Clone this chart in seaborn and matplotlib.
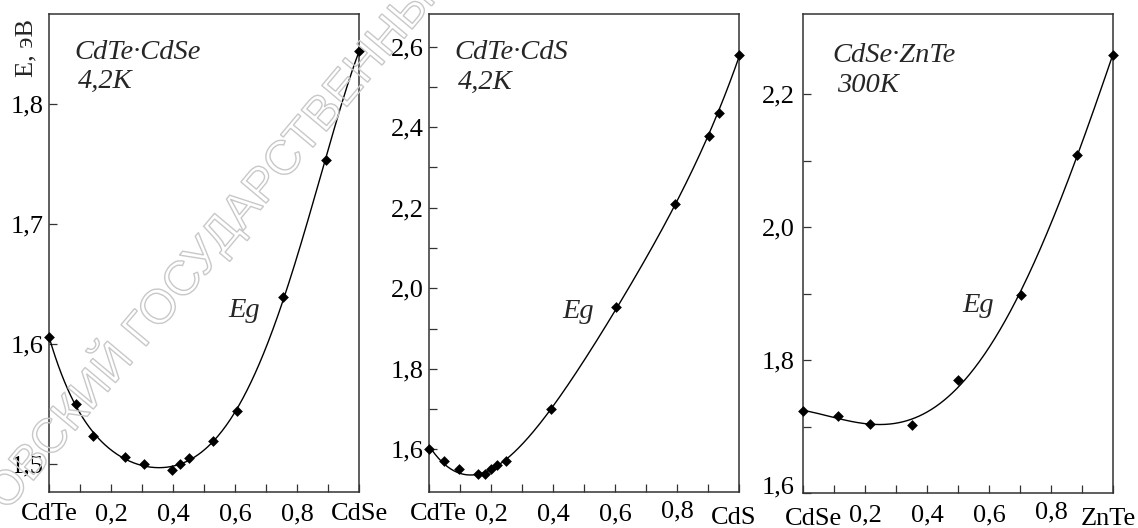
import numpy as np
import pandas as pd
import matplotlib
matplotlib.use("Agg")
import matplotlib.pyplot as plt
import seaborn as sns
from matplotlib.transforms import ScaledTranslation, Affine2D
from matplotlib.textpath import TextPath
from matplotlib.patches import PathPatch
from matplotlib.font_manager import FontProperties

# CdTe-CdSe, 4.2 K
x_cdte_cdse = [0.0, 0.087, 0.143, 0.246, 0.305, 0.398, 0.423, 0.452, 0.530, 0.605, 0.756, 0.892, 1.0]
e_cdte_cdse = [1.606, 1.550, 1.523, 1.506, 1.500, 1.495, 1.500, 1.505, 1.519, 1.544, 1.639, 1.753, 1.844]

# CdTe-CdS, 4.2 K
x_cdte_cds = [0.0, 0.049, 0.097, 0.158, 0.182, 0.201, 0.220, 0.249, 0.395, 0.604, 0.792, 0.902, 0.935, 1.0]
e_cdte_cds = [1.600, 1.572, 1.550, 1.538, 1.538, 1.550, 1.560, 1.571, 1.699, 1.954, 2.208, 2.378, 2.435, 2.580]

# CdSe-ZnTe, 300 K
x_cdse_znte = [0.0, 0.113, 0.217, 0.351, 0.501, 0.702, 0.884, 1.0]
e_cdse_znte = [1.723, 1.716, 1.704, 1.702, 1.770, 1.898, 2.109, 2.260]

x_major = [0.0, 0.2, 0.4, 0.6, 0.8, 1.0]
x_minor = [0.1, 0.3, 0.5, 0.7, 0.9]

panels = [
    dict(x=x_cdte_cdse, e=e_cdte_cdse, deg=5,
         xlabels=["CdTe", "0,2", "0,4", "0,6", "0,8", "CdSe"],
         yticks=[1.5, 1.6, 1.7, 1.8], yminor=[],
         ylabels=["1,5", "1,6", "1,7", "1,8"],
         ylim=(1.4767, 1.875),
         title=("CdTe\u00b7CdSe", "4,2K"),
         rect=[49, 14, 310, 478]),
    dict(x=x_cdte_cds, e=e_cdte_cds, deg=4,
         xlabels=["CdTe", "0,2", "0,4", "0,6", "0,8", "CdS"],
         yticks=[1.6, 1.8, 2.0, 2.2, 2.4, 2.6], yminor=[1.7, 1.9, 2.1, 2.3, 2.5],
         ylabels=["1,6", "1,8", "2,0", "2,2", "2,4", "2,6"],
         ylim=(1.494, 2.681),
         title=("CdTe\u00b7CdS", "4,2K"),
         rect=[429, 14, 310, 478]),
    dict(x=x_cdse_znte, e=e_cdse_znte, deg=4,
         xlabels=["CdSe", "0,2", "0,4", "0,6", "0,8", "ZnTe"],
         yticks=[1.6, 1.8, 2.0, 2.2], yminor=[1.7, 1.9, 2.1],
         ylabels=["1,6", "1,8", "2,0", "2,2"],
         ylim=(1.6, 2.321),
         title=("CdSe\u00b7ZnTe", "300K"),
         rect=[803, 14, 310, 479]),
]

# per-panel text placement (axes fractions) and tick-label nudges in pixels
title_pos = [((0.081, 0.905), (0.094, 0.845)),
             ((0.083, 0.905), (0.093, 0.843)),
             ((0.094, 0.900), (0.110, 0.838))]
eg_pos = [(0.577, 0.366), (0.431, 0.364), (0.513, 0.378)]
x_nudge = [
    {},
    {0: (9, 0), 4: (0, 3), 5: (-5, -4)},
    {0: (11, -4), 4: (0, 3), 5: (-5, -4)},
]
y_nudge = [{}, {}, {0: (0, 8)}]
ypad = [4, 4, 6]

W, H, DPI = 1138, 528, 100

sns.set_theme(style="ticks")
plt.rcParams["font.family"] = ["Liberation Serif", "DejaVu Serif"]

fig = plt.figure(figsize=(W / DPI, H / DPI), dpi=DPI)
fig.patch.set_facecolor("white")

spine_col = "#333333"
tick_fs = 19
note_fs = 20.5

for i, p in enumerate(panels):
    l, t, w, h = p["rect"]
    ax = fig.add_axes([l / W, 1 - (t + h) / H, w / W, h / H])
    ax.set_facecolor("white")

    pts = pd.DataFrame({"x": p["x"], "E": p["e"]})
    coef = np.polyfit(pts["x"], pts["E"], p["deg"])
    xs = np.linspace(0, 1, 300)
    fit = pd.DataFrame({"x": xs, "E": np.polyval(coef, xs)})

    sns.lineplot(data=fit, x="x", y="E", ax=ax, color="black", lw=1.0)
    sns.scatterplot(data=pts, x="x", y="E", ax=ax, color="black", s=30,
                    marker="D", linewidth=0, zorder=4, clip_on=False)

    ax.set_xlim(0, 1)
    ax.set_ylim(*p["ylim"])
    ax.set_xlabel("")
    ax.set_ylabel("")

    ax.set_xticks(x_major)
    ax.set_xticklabels(p["xlabels"], fontsize=tick_fs)
    ax.set_xticks(x_minor, minor=True)
    ax.set_yticks(p["yticks"])
    ax.set_yticklabels(p["ylabels"], fontsize=tick_fs)
    ax.set_yticks(p["yminor"], minor=True)

    ax.tick_params(which="both", direction="in", length=5.5, width=0.9,
                   color=spine_col, labelcolor="black")
    ax.tick_params(axis="x", which="both", pad=8)
    ax.tick_params(axis="y", which="both", pad=ypad[i])

    for s in ax.spines.values():
        s.set_visible(True)
        s.set_color(spine_col)
        s.set_linewidth(1.1)

    for k, (dx, dy) in x_nudge[i].items():
        lab = ax.get_xticklabels()[k]
        lab.set_transform(lab.get_transform() +
                          ScaledTranslation(dx / DPI, dy / DPI, fig.dpi_scale_trans))
    for k, (dx, dy) in y_nudge[i].items():
        lab = ax.get_yticklabels()[k]
        lab.set_transform(lab.get_transform() +
                          ScaledTranslation(dx / DPI, dy / DPI, fig.dpi_scale_trans))

    (t1x, t1y), (t2x, t2y) = title_pos[i]
    ax.text(t1x, t1y, p["title"][0], transform=ax.transAxes, style="italic",
            fontsize=note_fs, ha="left", va="baseline")
    ax.text(t2x, t2y, p["title"][1], transform=ax.transAxes, style="italic",
            fontsize=note_fs, ha="left", va="baseline")
    ax.text(eg_pos[i][0], eg_pos[i][1], "Eg", transform=ax.transAxes,
            style="italic", fontsize=note_fs, ha="left", va="baseline")

fig.text(26 / W, 1 - 48 / H, "Е, эВ", rotation=90, fontsize=tick_fs,
         ha="center", va="center")

# outlined diagonal stamp across the first panels
stamp = TextPath((0, 0), "ОВСКИЙ ГОСУДАРСТВЕННЫЙ", size=48,
                 prop=FontProperties(family="Liberation Sans"))
stamp_patch = PathPatch(stamp, transform=Affine2D().rotate_deg(50).translate(7, 16),
                        facecolor="none", edgecolor="#c8c8c8", lw=1.0)
fig.add_artist(stamp_patch)

fig.savefig("out.png", dpi=DPI, facecolor="white")
